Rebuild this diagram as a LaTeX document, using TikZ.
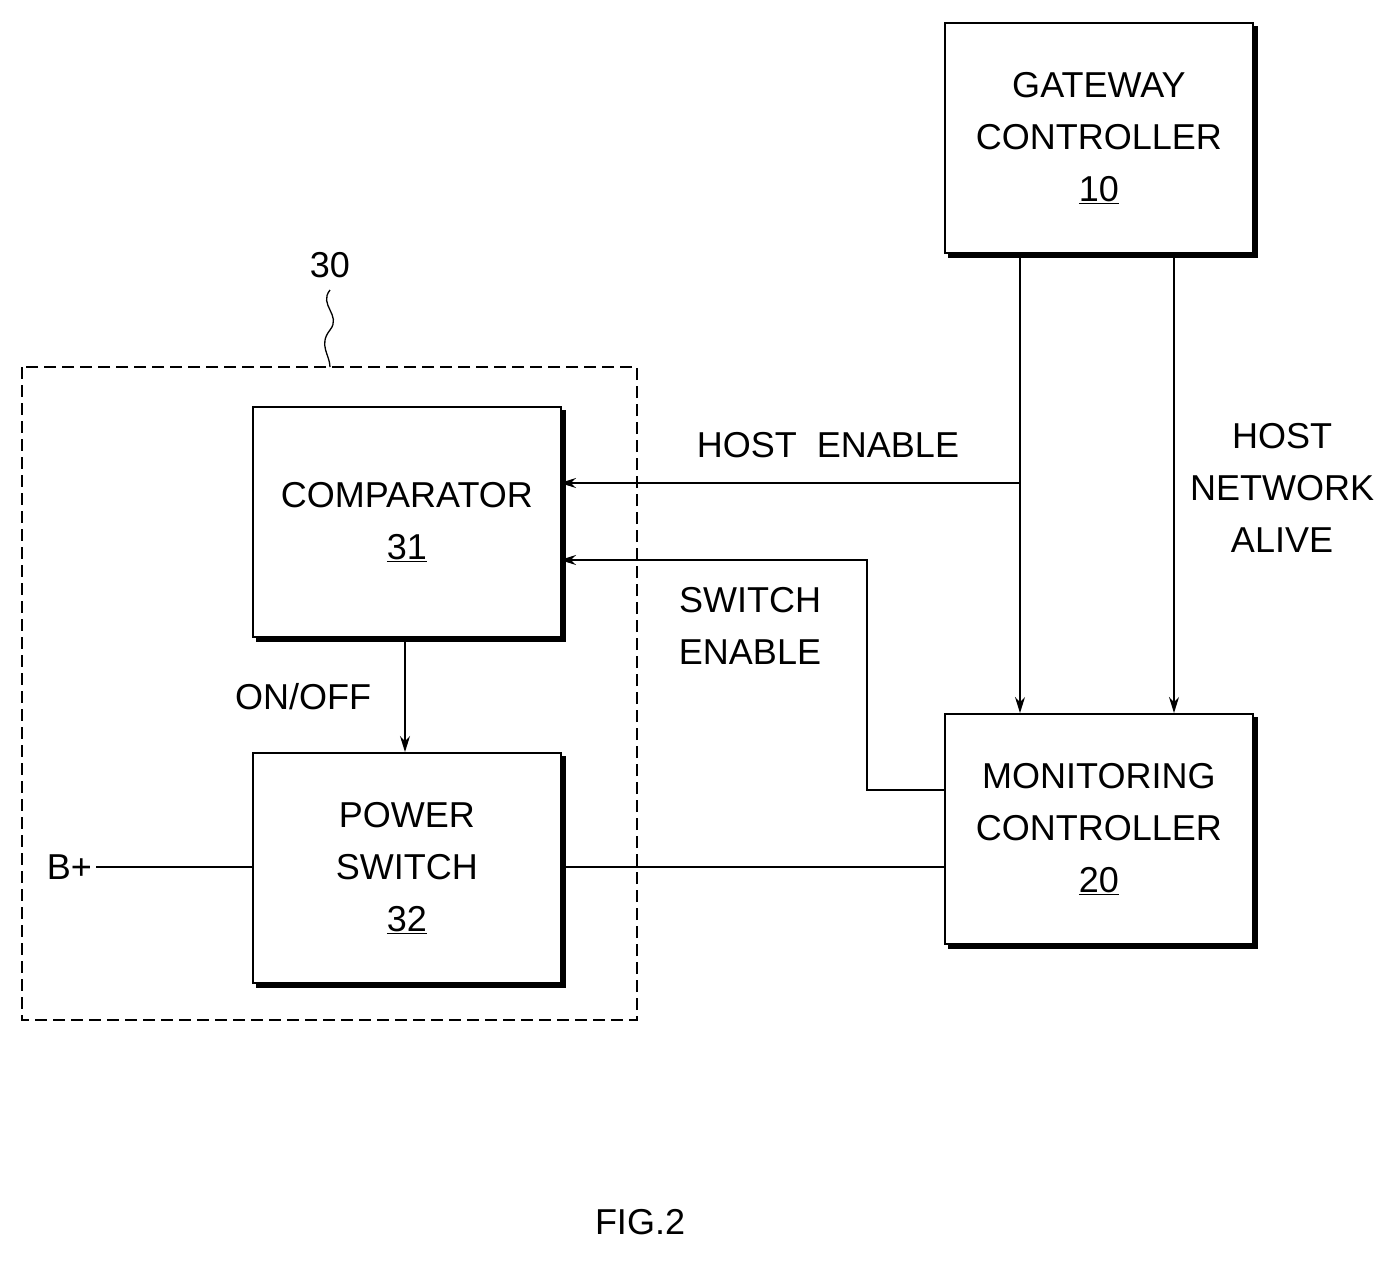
\documentclass[tikz,border=0pt]{standalone}
\usepackage{fontspec}
\setmainfont{Liberation Sans}
\usetikzlibrary{arrows.meta,shadows}
\begin{document}
\begin{tikzpicture}[x=1pt,y=-1pt,
  box/.style={draw,line width=1.8pt,fill=white,minimum width=308pt,minimum height=230pt,anchor=north west,inner sep=0pt,
     align=center,font=\fontsize{36}{52}\selectfont,
     copy shadow={shadow xshift=4pt,shadow yshift=-4pt,fill=black,draw=black}},
  lbl/.style={font=\fontsize{36}{52}\selectfont,align=center,inner sep=0pt},
  con/.style={line width=1.3pt},
  arr/.style={con,-{Stealth[length=16pt,width=10pt]}}]
\useasboundingbox (0,0) rectangle (1388,1264);
\node[box] (gw) at (944,22) {GATEWAY\\CONTROLLER\\\underline{10}};
\node[box] (cmp) at (252,406) {COMPARATOR\\\underline{31}};
\node[box] (ps) at (252,752) {POWER\\SWITCH\\\underline{32}};
\node[box] (mon) at (944,713) {MONITORING\\CONTROLLER\\\underline{20}};
\draw[dashed,line width=1.3pt,dash pattern=on 12pt off 6pt] (22,367) rectangle (637,1020);
\node[lbl] (l30) at (330,265) {30};
\coordinate (s1) at (330,290);
\draw[con] (s1) .. controls (318,305) and (342,315) .. (330,330) .. controls (318,345) and (330,355) .. (330,367);
\coordinate (g1) at (1020,252);
\coordinate (g2) at (1174,252);
\draw[arr] (g1) -- (1020,713);
\draw[arr] (g2) -- (1174,713);
\coordinate (he) at (1020,483);
\draw[arr] (he) -- (560,483);
\draw[arr] (944,790) -- (867,790) -- (867,560) -- (560,560);
\draw[arr] (405,640) -- (405,752);
\node[lbl,anchor=east] (bp) at (92,867) {B+};
\draw[con] (bp.east) ++(4,0) -- (252,867);
\draw[con] (560,867) -- (944,867);
\node[lbl] (the) at (828,445) {HOST\ \ ENABLE};
\node[lbl] (tse) at (750,626) {SWITCH\\ENABLE};
\node[lbl] (thn) at (1282,488) {HOST\\NETWORK\\ALIVE};
\node[lbl] (too) at (303,697) {ON/OFF};
\node[lbl] (fig) at (640,1222) {FIG.2};
\end{tikzpicture}
\end{document}
